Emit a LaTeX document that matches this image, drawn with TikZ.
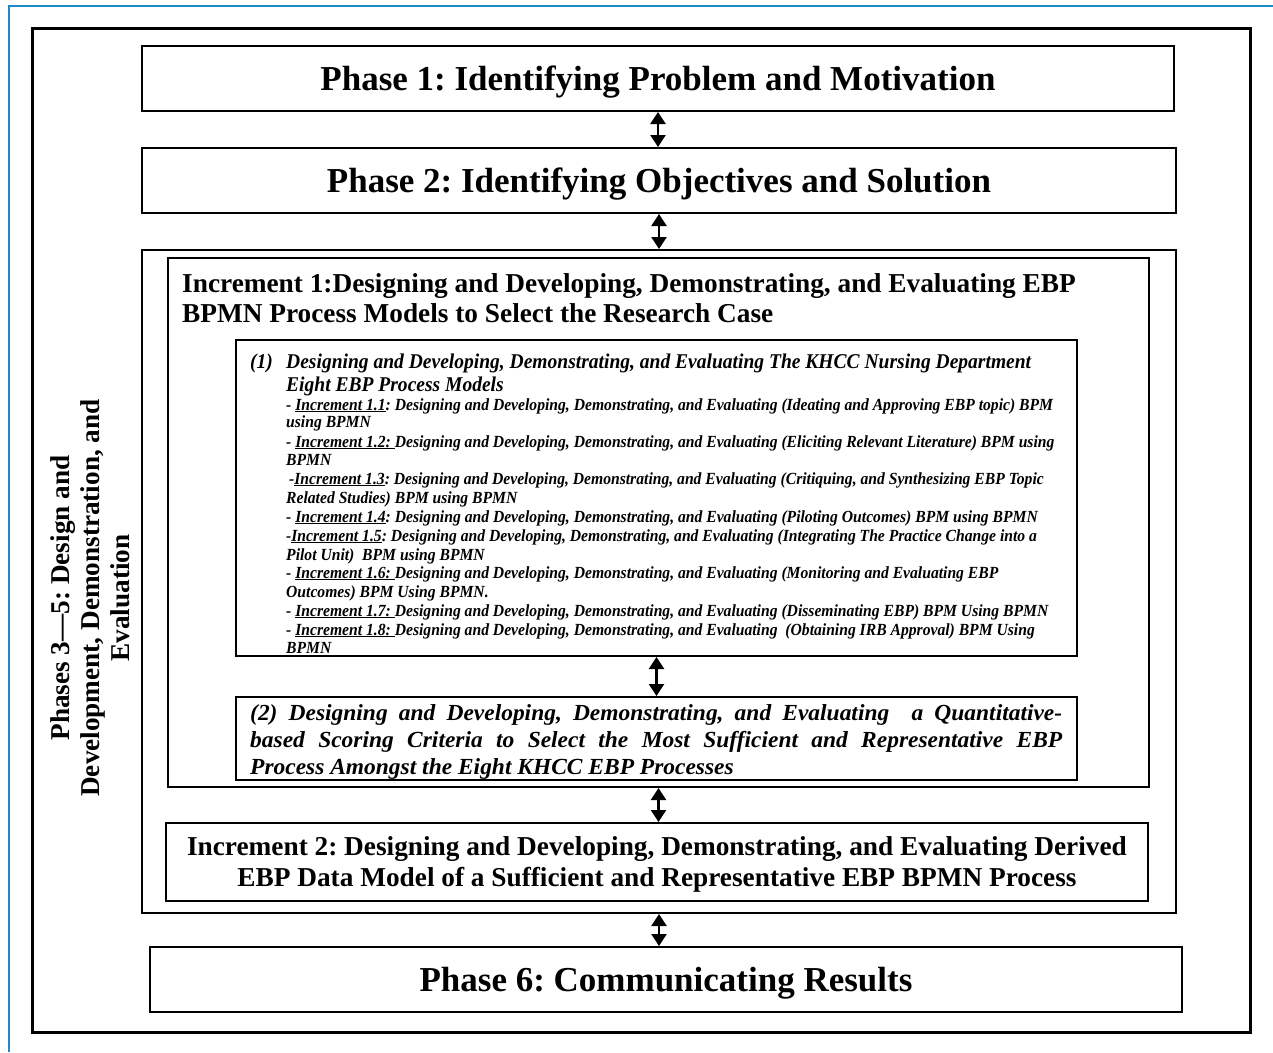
\documentclass[tikz,border=0pt]{standalone}
\usepackage{fontspec}
\setmainfont{Liberation Serif}
\newfontfamily\condA[FakeStretch=0.93]{Liberation Serif}
\newfontfamily\condS[FakeStretch=0.92]{Liberation Serif}
\newfontfamily\condB[FakeStretch=1.02]{Liberation Serif}
\usetikzlibrary{arrows.meta}
\definecolor{frameblue}{RGB}{30,136,200}
\tikzset{
  box/.style={draw=black, line width=2pt, rectangle, inner sep=0pt},
  bigbox/.style={draw=black, line width=3pt, rectangle, inner sep=0pt},
  phasetxt/.style={font=\fontsize{35}{40}\selectfont\bfseries, align=center, text depth=0pt},
  inctxt/.style={font=\fontsize{27.3}{31}\selectfont\bfseries, inner sep=0pt},
  onetxt/.style={font=\condA\fontsize{21}{23}\selectfont\bfseries\itshape, inner sep=0pt, anchor=base west},
  smtxt/.style={font=\condS\fontsize{17}{18}\selectfont\bfseries\itshape, inner sep=0pt, anchor=base west},
  twotxt/.style={font=\condB\fontsize{23}{27}\selectfont\bfseries\itshape, inner sep=0pt, anchor=base west},
  dblarrow/.style={{Triangle[width=15pt,length=12pt]}-{Triangle[width=15pt,length=12pt]}, line width=2.4pt}
}
\begin{document}
\frenchspacing
\begin{tikzpicture}[x=1pt,y=-1pt]
\useasboundingbox (0,0) rectangle (1273,1052);
% blue frame
\draw[frameblue, line width=2.2pt] (9,1052) -- (9,6) -- (1273,6);
% outer box
\node[bigbox, minimum width=1218pt, minimum height=1004pt] (outer) at (641,530) {};
% phase boxes
\node[box, minimum width=1032pt, minimum height=65pt, phasetxt] (p1) at (658,78.5) {Phase 1: Identifying Problem and Motivation};
\node[box, minimum width=1034pt, minimum height=65pt, phasetxt] (p2) at (659,180.5) {Phase 2: Identifying Objectives and Solution};
\node[box, minimum width=1034pt, minimum height=663pt] (p35) at (659,581.5) {};
\node[box, minimum width=981pt, minimum height=529pt] (inc1) at (658.5,522.5) {};
\node[box, minimum width=841pt, minimum height=316pt] (b1) at (656.5,498) {};
\node[box, minimum width=841pt, minimum height=83pt] (b2) at (656.5,738.5) {};
\node[box, minimum width=982pt, minimum height=78pt] (inc2) at (657,862) {};
\node[box, minimum width=1032pt, minimum height=65pt, phasetxt] (p6) at (666,979.5) {Phase 6: Communicating Results};
% vertical label
\node[font=\fontsize{27.2}{30}\selectfont\bfseries, align=center, rotate=90] (ph35) at (90,598)
  {Phases 3—5: Design and\\Development, Demonstration, and\\Evaluation};
% increment 1 title
\node[inctxt, anchor=base west] (i1a) at (182,292) {Increment 1:Designing and Developing, Demonstrating, and Evaluating EBP};
\node[inctxt, anchor=base west] (i1b) at (182,322) {BPMN Process Models to Select the Research Case};
% block (1)
\node[onetxt] (o0) at (250,368) {(1)};
\node[onetxt] (o1) at (286,368) {Designing and Developing, Demonstrating, and Evaluating The KHCC Nursing Department};
\node[onetxt] (o2) at (286,391) {Eight EBP Process Models};
\node[smtxt] (s1) at (286,410) {- \underline{Increment 1.1}: Designing and Developing, Demonstrating, and Evaluating (Ideating and Approving EBP topic) BPM};
\node[smtxt] (s2) at (286,427) {using BPMN};
\node[smtxt] (s3) at (286,447) {- \underline{Increment 1.2: }Designing and Developing, Demonstrating, and Evaluating (Eliciting Relevant Literature) BPM using};
\node[smtxt] (s4) at (286,465) {BPMN};
\node[smtxt] (s5) at (289,484) {-\underline{Increment 1.3}: Designing and Developing, Demonstrating, and Evaluating (Critiquing, and Synthesizing EBP Topic};
\node[smtxt] (s6) at (286,503) {Related Studies) BPM using BPMN};
\node[smtxt] (s7) at (286,522) {- \underline{Increment 1.4}: Designing and Developing, Demonstrating, and Evaluating (Piloting Outcomes) BPM using BPMN};
\node[smtxt] (s8) at (286,541) {-\underline{Increment 1.5}: Designing and Developing, Demonstrating, and Evaluating (Integrating The Practice Change into a};
\node[smtxt] (s9) at (286,560) {Pilot Unit)\ \ BPM using BPMN};
\node[smtxt] (s10) at (286,578) {- \underline{Increment 1.6: }Designing and Developing, Demonstrating, and Evaluating (Monitoring and Evaluating EBP};
\node[smtxt] (s11) at (286,597) {Outcomes) BPM Using BPMN.};
\node[smtxt] (s12) at (286,616) {- \underline{Increment 1.7: }Designing and Developing, Demonstrating, and Evaluating (Disseminating EBP) BPM Using BPMN};
\node[smtxt] (s13) at (286,635) {- \underline{Increment 1.8: }Designing and Developing, Demonstrating, and Evaluating\ \ (Obtaining IRB Approval) BPM Using};
\node[smtxt] (s14) at (286,653) {BPMN};
% block (2)
\node[twotxt] (t1) at (250,720) {\makebox[812pt][s]{(2) Designing and Developing, Demonstrating, and Evaluating\ \ a Quantitative-}};
\node[twotxt] (t2) at (250,747) {\makebox[812pt][s]{based Scoring Criteria to Select the Most Sufficient and Representative EBP}};
\node[twotxt] (t3) at (250,774) {Process Amongst the Eight KHCC EBP Processes};
% increment 2
\node[inctxt, align=center] (i2) at (657,864) {Increment 2: Designing and Developing, Demonstrating, and Evaluating Derived\\EBP Data Model of a Sufficient and Representative EBP BPMN Process};
% arrows
\draw[dblarrow] (p1.south) -- (p1.south |- p2.north);
\draw[dblarrow] (p2.south) -- (p2.south |- p35.north);
\draw[dblarrow] (b1.south) -- (b1.south |- b2.north);
\draw[dblarrow] (inc1.south) -- (inc1.south |- inc2.north);
\draw[dblarrow] (p35.south) -- (p35.south |- p6.north);
\end{tikzpicture}
\end{document}
